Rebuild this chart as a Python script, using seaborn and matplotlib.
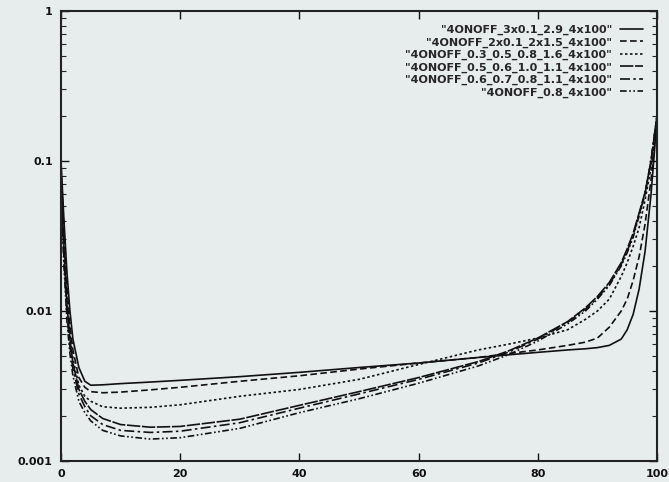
import matplotlib
matplotlib.use("Agg")
import matplotlib.pyplot as plt
import matplotlib.ticker as mticker
import seaborn as sns
import pandas as pd

x = [0, 0.5, 1, 1.5, 2, 3, 4, 5, 7, 10, 15, 20, 30, 40, 50, 60, 70, 75, 80, 85, 88, 90, 92, 94, 95, 96, 97, 98, 99, 100]

labels = ['"4ONOFF_3x0.1_2.9_4x100"',
          '"4ONOFF_2x0.1_2x1.5_4x100"',
          '"4ONOFF_0.3_0.5_0.8_1.6_4x100"',
          '"4ONOFF_0.5_0.6_1.0_1.1_4x100"',
          '"4ONOFF_0.6_0.7_0.8_1.1_4x100"',
          '"4ONOFF_0.8_4x100"']

s1 = [0.1, 0.04, 0.018, 0.01, 0.0065, 0.0042, 0.0034, 0.0032, 0.00322, 0.00328, 0.00336, 0.00345, 0.00365, 0.0039, 0.0042, 0.0045, 0.0049, 0.0051, 0.0053, 0.0055, 0.0056, 0.0057, 0.0059, 0.0065, 0.0075, 0.0095, 0.014, 0.025, 0.06, 0.19]
s2 = [0.09, 0.035, 0.015, 0.008, 0.0055, 0.0036, 0.0031, 0.0029, 0.00285, 0.00288, 0.00298, 0.0031, 0.0034, 0.0037, 0.0041, 0.0045, 0.0049, 0.0052, 0.0055, 0.0059, 0.0062, 0.0066, 0.0078, 0.0100, 0.012, 0.016, 0.023, 0.038, 0.075, 0.19]
s3 = [0.085, 0.03, 0.012, 0.007, 0.0048, 0.0032, 0.0027, 0.0025, 0.0023, 0.00225, 0.00228, 0.00237, 0.0027, 0.0030, 0.0035, 0.0044, 0.0055, 0.006, 0.0066, 0.0075, 0.0088, 0.0100, 0.0120, 0.017, 0.021, 0.027, 0.036, 0.055, 0.09, 0.19]
s4 = [0.07, 0.025, 0.011, 0.0065, 0.0045, 0.003, 0.0025, 0.0022, 0.00192, 0.00175, 0.00168, 0.0017, 0.0019, 0.00235, 0.0029, 0.0036, 0.0046, 0.0054, 0.0066, 0.0085, 0.0105, 0.0125, 0.0155, 0.021, 0.026, 0.033, 0.045, 0.062, 0.1, 0.2]
s5 = [0.065, 0.022, 0.0095, 0.0058, 0.0041, 0.0028, 0.0023, 0.002, 0.00175, 0.0016, 0.00155, 0.00158, 0.0018, 0.00225, 0.0028, 0.0035, 0.0045, 0.0053, 0.0065, 0.0084, 0.0103, 0.0122, 0.015, 0.0205, 0.025, 0.032, 0.044, 0.061, 0.1, 0.2]
s6 = [0.06, 0.02, 0.0085, 0.0052, 0.0037, 0.0025, 0.0021, 0.00185, 0.0016, 0.00147, 0.0014, 0.00143, 0.00165, 0.0021, 0.0026, 0.0033, 0.0043, 0.0051, 0.0063, 0.0082, 0.01, 0.012, 0.0148, 0.02, 0.0245, 0.031, 0.043, 0.06, 0.1, 0.2]

series = [s1, s2, s3, s4, s5, s6]
xticks = [0, 20, 40, 60, 80, 100]
yticks = [0.001, 0.01, 0.1, 1]
yticklabels = ["0.001", "0.01", "0.1", "1"]

rows = []
for lab, vals in zip(labels, series):
    for xi, yi in zip(x, vals):
        rows.append({"x": xi, "y": yi, "series": lab})
df = pd.DataFrame(rows)

sns.set_style("ticks")
plt.rcParams["font.family"] = ["DejaVu Sans"]

bg = "#e7eded"
fig = plt.figure(figsize=(6.69, 4.82), dpi=100, facecolor=bg)
ax = fig.add_axes([61/669, 1-461/482, (657-61)/669, (461-11)/482])
ax.set_facecolor(bg)

dashes = {labels[0]: "",
          labels[1]: (4, 2),
          labels[2]: (1.5, 1.5),
          labels[3]: (8, 1),
          labels[4]: (6, 2, 1.5, 2),
          labels[5]: (4, 1.5, 1, 1.5, 1, 1.5)}
palette = {l: "#111111" for l in labels}

sns.lineplot(data=df, x="x", y="y", hue="series", style="series",
             palette=palette, dashes=dashes, hue_order=labels, style_order=labels,
             linewidth=1.2, ax=ax, legend=True)

ax.set_yscale("log")
ax.set_xlim(0, 100)
ax.set_ylim(0.001, 1)
ax.set_xticks(xticks)
ax.set_xticklabels([str(t) for t in xticks])
ax.set_yticks(yticks)
ax.set_yticklabels(yticklabels)
ax.yaxis.set_minor_locator(mticker.LogLocator(base=10, subs=range(2, 10)))
ax.yaxis.set_minor_formatter(mticker.NullFormatter())
ax.set_xlabel("")
ax.set_ylabel("")
ax.tick_params(axis="both", which="major", direction="in", length=6, width=1,
               top=True, right=True, labelsize=8, pad=6, colors="#111111")
ax.tick_params(axis="both", which="minor", direction="in", length=3.5, width=0.8,
               top=True, right=True)
for lab in ax.get_xticklabels() + ax.get_yticklabels():
    lab.set_fontweight("bold")
for sp in ax.spines.values():
    sp.set_linewidth(1.5)
    sp.set_color("#222222")

handles, labs = ax.get_legend_handles_labels()
leg = ax.legend(handles, labs, loc="upper right", frameon=False, markerfirst=False,
                prop={"size": 8, "weight": "bold"}, handlelength=2.1,
                labelspacing=0.2, borderaxespad=0.85, handletextpad=0.7)

fig.savefig("out.png", dpi=100, facecolor=bg)
